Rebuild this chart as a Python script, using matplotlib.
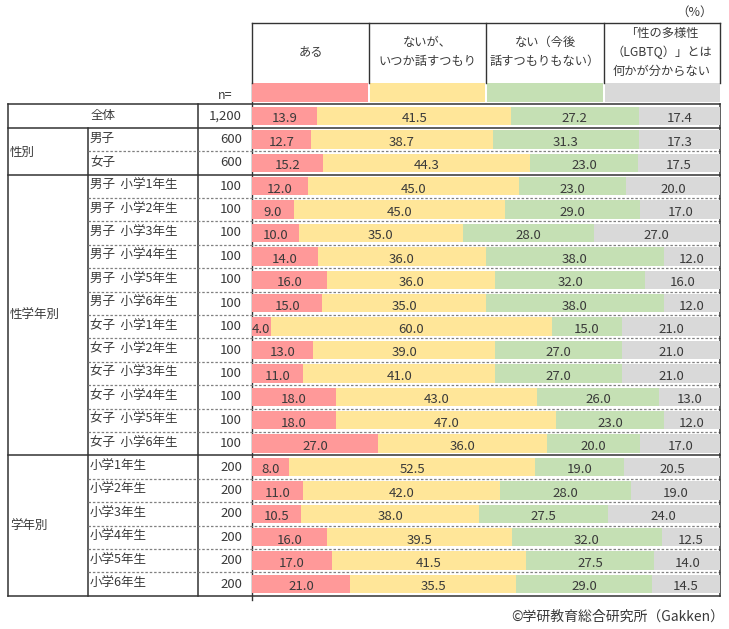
import matplotlib
matplotlib.use("Agg")
import matplotlib.pyplot as plt
from matplotlib.patches import Rectangle

plt.rcParams['font.family'] = ['Noto Sans CJK JP', 'DejaVu Sans']

# ---------------- data ----------------
row_labels = ["全体", "男子", "女子",
              "男子  小学1年生", "男子  小学2年生", "男子  小学3年生",
              "男子  小学4年生", "男子  小学5年生", "男子  小学6年生",
              "女子  小学1年生", "女子  小学2年生", "女子  小学3年生",
              "女子  小学4年生", "女子  小学5年生", "女子  小学6年生",
              "小学1年生", "小学2年生", "小学3年生",
              "小学4年生", "小学5年生", "小学6年生"]
n_values = ["1,200", "600", "600"] + ["100"] * 12 + ["200"] * 6

aru = [13.9, 12.7, 15.2, 12.0, 9.0, 10.0, 14.0, 16.0, 15.0,
       4.0, 13.0, 11.0, 18.0, 18.0, 27.0,
       8.0, 11.0, 10.5, 16.0, 17.0, 21.0]
naiga = [41.5, 38.7, 44.3, 45.0, 45.0, 35.0, 36.0, 36.0, 35.0,
         60.0, 39.0, 41.0, 43.0, 47.0, 36.0,
         52.5, 42.0, 38.0, 39.5, 41.5, 35.5]
nai = [27.2, 31.3, 23.0, 23.0, 29.0, 28.0, 38.0, 32.0, 38.0,
       15.0, 27.0, 27.0, 26.0, 23.0, 20.0,
       19.0, 28.0, 27.5, 32.0, 27.5, 29.0]
wakaranai = [17.4, 17.3, 17.5, 20.0, 17.0, 27.0, 12.0, 16.0, 12.0,
             21.0, 21.0, 21.0, 13.0, 12.0, 17.0,
             20.5, 19.0, 24.0, 12.5, 14.0, 14.5]

series_names = ["ある", "ないが、\nいつか話すつもり", "ない（今後\n話すつもりもない）",
                "「性の多様性\n（LGBTQ）」とは\n何かが分からない"]
series_colors = ["#FF9999", "#FFE699", "#C5E0B4", "#D9D9D9"]

group_names = ["性別", "性学年別", "学年別"]
group_spans = [(1, 3), (3, 15), (15, 21)]

# ---------------- layout (pixels) ----------------
W, H = 729, 629
fig = plt.figure(figsize=(W / 100, H / 100), dpi=100)

tab = fig.add_axes([0, 0, 1, 1])
tab.set_xlim(0, W)
tab.set_ylim(H, 0)
tab.axis("off")

x_left, x_sub, x_n, x_bar, x_right = 8, 88, 198, 252, 720
y_top, y_bot = 104.3, 595.7
nrows = len(row_labels)
rh = (y_bot - y_top) / nrows

bar_ax = fig.add_axes([x_bar / W, 1 - y_bot / H, (x_right - x_bar) / W, (y_bot - y_top) / H])
bar_ax.set_xlim(0, 100)
bar_ax.set_ylim(nrows, 0)
bar_ax.axis("off")
bar_ax.patch.set_alpha(0)

dark = "#333333"
txt = "#3a3a3a"
fs = 9.0
fs_val = 9.5
fs_head = 8.8

# bars
ypos = [i + 0.5 for i in range(nrows)]
left = [0.0] * nrows
for vals, col in zip([aru, naiga, nai, wakaranai], series_colors):
    bar_ax.barh(ypos, vals, left=left, height=0.79, color=col, edgecolor="none")
    for i, v in enumerate(vals):
        bar_ax.text(left[i] + v / 2, ypos[i] + 0.27, f"{v:.1f}", ha="center", va="baseline",
                    fontsize=fs_val, color=txt)
    left = [l + v for l, v in zip(left, vals)]

# axis line at bar start (visible in gaps)
tab.plot([x_bar, x_bar], [83, y_bot + 4], color=dark, lw=1, zorder=1)

# header
col_edges = [252, 369, 486, 604, 720]
tab.plot([col_edges[0], col_edges[-1]], [23, 23], color=dark, lw=1)
for xe in col_edges:
    tab.plot([xe, xe], [23, 83], color=dark, lw=1)
for k, name in enumerate(series_names):
    xc = (col_edges[k] + col_edges[k + 1]) / 2
    tab.text(xc, 52, name, ha="center", va="center", fontsize=fs_head, color=txt, linespacing=1.55)
    x0 = col_edges[k] + (0 if k == 0 else 1)
    tab.add_patch(Rectangle((x0, 83), col_edges[k + 1] - x0 - (1 if k < 3 else 0), 19,
                            facecolor=series_colors[k], edgecolor="none"))
tab.text(713, 12, "（%）", ha="right", va="center", fontsize=fs, color=txt)
tab.text(233, 99, "n=", ha="right", va="baseline", fontsize=fs, color=txt)

# row lines
solid_rows = {0, 1, 3, 15, 21}
for b in range(nrows + 1):
    yb = y_top + b * rh
    if b in solid_rows:
        tab.plot([x_left, x_right], [yb, yb], color=dark, lw=1.1, zorder=3)
    else:
        tab.plot([x_sub, x_right], [yb, yb], color="#808080", lw=0.9,
                 linestyle=(0, (2, 1.5)), zorder=3)

# vertical lines
tab.plot([x_left, x_left], [y_top, y_bot], color=dark, lw=1.1)
tab.plot([x_sub, x_sub], [y_top + rh, y_bot], color=dark, lw=1.1)
tab.plot([x_n, x_n], [y_top, y_bot], color=dark, lw=1.1)
tab.plot([x_right, x_right], [y_top, y_bot], color=dark, lw=1.1, zorder=3)

# row texts
for i, (lab, n) in enumerate(zip(row_labels, n_values)):
    yc = y_top + (i + 0.5) * rh
    if i == 0:
        tab.text((x_left + x_n) / 2, yc + 3, lab, ha="center", va="baseline", fontsize=fs, color=txt)
    else:
        tab.text(x_sub + 2, yc + 3, lab, ha="left", va="baseline", fontsize=fs, color=txt)
    tab.text(242, yc + 3.5, n, ha="right", va="baseline", fontsize=fs_val, color=txt)

for g, (a, b) in zip(group_names, group_spans):
    yc = y_top + (a + b) / 2 * rh
    tab.text(x_left + 2, yc + 4.5, g, ha="left", va="baseline", fontsize=fs, color=txt)

tab.text(724, 617, "©学研教育総合研究所（Gakken）", ha="right", va="center", fontsize=10, color=txt)

fig.savefig("out.png", dpi=100)
